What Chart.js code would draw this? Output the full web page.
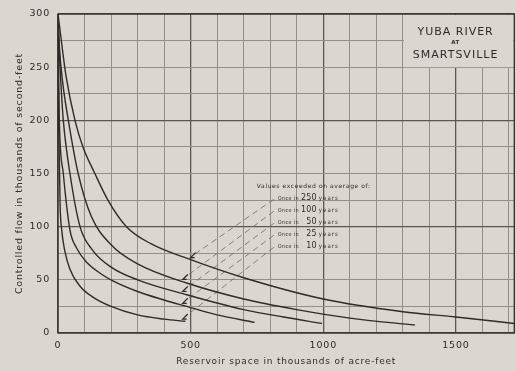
<!DOCTYPE html>
<html>
<head>
<meta charset="utf-8">
<script src="https://cdn.jsdelivr.net/npm/chart.js@4"></script>
<style>
  html, body { margin: 0; padding: 0; background: #dcd6d1; }
  #wrap { position: relative; width: 516px; height: 371px; }
</style>
</head>
<body>
<div id="wrap"><canvas id="chart" width="516" height="371"></canvas></div>
<script>
// Reservoir space (thousands of acre-feet) and controlled flow (thousands of second-feet)
const space250 = [0, 10, 30, 64, 94, 139, 188, 258, 350, 500, 700, 1000, 1300, 1500, 1720];
const flow250  = [300, 280, 242, 200, 175, 150, 125, 100, 84, 69, 52, 32, 20, 15, 9];

const space100 = [0, 5, 18, 39, 76, 125, 200, 300, 485, 700, 900, 1100, 1345];
const flow100  = [300, 270, 235, 200, 150, 110, 83, 65, 47, 32, 22, 14, 7.5];

const space50 = [0, 4, 12, 20, 45, 83, 130, 200, 300, 485, 700, 850, 995];
const flow50  = [300, 270, 230, 200, 150, 100, 78, 62, 50, 36, 22, 15, 9];

const space25 = [0, 2, 5, 20, 45, 70, 110, 160, 207, 300, 400, 485, 600, 741];
const flow25  = [300, 250, 200, 150, 97, 80, 66, 56, 49, 39, 31, 25, 17, 10];

const space10 = [0, 1, 3, 8, 14, 25, 45, 83, 130, 200, 300, 400, 480];
const flow10  = [300, 240, 190, 120, 97, 78, 60, 44, 34, 25, 17, 13, 11];

const periodLabels = ['250', '100', '50', '25', '10'];
const xTickLabels = [0, 500, 1000, 1500];
const yTickLabels = [0, 50, 100, 150, 200, 250, 300];
const stationTitle = ['YUBA RIVER', 'AT', 'SMARTSVILLE'];
const legendHeading = 'Values exceeded on average of:';

const curves = [
  [space250, flow250], [space100, flow100], [space50, flow50], [space25, flow25], [space10, flow10]
];

const INK = '#2f2b28';
const GRID = '#948e89';
const GRID_MAJOR = '#5c5753';
const PAPER = '#dcd6d1';
const FONT = "'DejaVu Sans', sans-serif";
const NARROW = "'DejaVu Sans Condensed', 'DejaVu Sans', sans-serif";

const datasets = curves.map(([xs, ys], i) => ({
  label: 'Once in ' + periodLabels[i] + ' years',
  data: xs.map((x, k) => ({ x: x, y: ys[k] })),
  borderColor: INK,
  borderWidth: 1.4,
  pointRadius: 0,
  fill: false,
  cubicInterpolationMode: 'monotone'
}));

// Wide lettering for the axis text
const spacing = {
  id: 'spacing',
  beforeUpdate(chart) { chart.ctx.letterSpacing = '0.8px'; },
  beforeDraw(chart) {
    const ctx = chart.ctx;
    ctx.letterSpacing = '0.8px';
    ctx.save();
    ctx.fillStyle = PAPER;
    ctx.fillRect(0, 0, chart.width, chart.height);
    ctx.restore();
  }
};

// Frame, station title box, and the return-period key with its leader lines
const decorations = {
  id: 'decorations',
  beforeDatasetsDraw(chart) {
    const { ctx, chartArea: a, scales: { x, y } } = chart;
    ctx.save();
    // station title box in the upper right corner
    const bx0 = x.getPixelForValue(1300), by1 = y.getPixelForValue(250);
    ctx.fillStyle = PAPER;
    ctx.fillRect(bx0 + 1, a.top + 1, a.right - bx0 - 2, by1 - a.top - 1);
    ctx.fillStyle = INK;
    ctx.textAlign = 'center';
    ctx.textBaseline = 'middle';
    const cx = (bx0 + a.right) / 2 - 3;
    ctx.letterSpacing = '1px';
    ctx.font = '11px ' + FONT;
    ctx.fillText(stationTitle[0], cx, a.top + 18);
    ctx.letterSpacing = '0.5px';
    ctx.font = 'bold 5.5px ' + FONT;
    ctx.fillText(stationTitle[1], cx, a.top + 29);
    ctx.letterSpacing = '1px';
    ctx.font = '11px ' + FONT;
    ctx.fillText(stationTitle[2], cx, a.top + 41);

    // plot frame
    ctx.strokeStyle = INK;
    ctx.lineWidth = 1.3;
    ctx.strokeRect(a.left, a.top, a.right - a.left, a.bottom - a.top);

    // key
    const kx = x.getPixelForValue(825) + 1, ky = y.getPixelForValue(138);
    ctx.letterSpacing = '0.6px';
    ctx.font = '6px ' + FONT;
    ctx.textAlign = 'left';
    ctx.fillText(legendHeading, kx - 21, ky);
    const rowGap = 12;
    const leaderX = [500, 470, 470, 470, 470];
    for (let i = 0; i < periodLabels.length; i++) {
      const ry = ky + rowGap * (i + 1);
      ctx.letterSpacing = '0.3px';
      ctx.font = '5.5px ' + NARROW;
      ctx.textAlign = 'left';
      ctx.fillText('Once in', kx, ry + 0.5);
      ctx.letterSpacing = '0.2px';
      ctx.font = '8px ' + FONT;
      ctx.textAlign = 'right';
      ctx.fillText(periodLabels[i], kx + 39, ry);
      ctx.letterSpacing = '1px';
      ctx.font = '6px ' + NARROW;
      ctx.textAlign = 'left';
      ctx.fillText('years', kx + 41, ry + 0.5);
      // leader from the label down to its curve
      const [xs, ys] = curves[i];
      let j = 0;
      while (j < xs.length - 2 && xs[j + 1] < leaderX[i]) j++;
      const t = (leaderX[i] - xs[j]) / (xs[j + 1] - xs[j]);
      const vy = ys[j] + t * (ys[j + 1] - ys[j]);
      const ex = x.getPixelForValue(leaderX[i]), ey = y.getPixelForValue(vy) - 2;
      ctx.strokeStyle = '#6e6864';
      ctx.lineWidth = 0.8;
      ctx.setLineDash([6, 4]);
      ctx.beginPath();
      ctx.moveTo(kx - 4, ry + 1);
      ctx.lineTo(ex + 2, ey - 2);
      ctx.stroke();
      ctx.setLineDash([]);
      ctx.strokeStyle = INK;
      ctx.lineWidth = 1.2;
      ctx.beginPath();
      ctx.moveTo(ex + 5, ey - 5);
      ctx.lineTo(ex, ey);
      ctx.lineTo(ex + 4, ey);
      ctx.stroke();
    }
    ctx.restore();
  }
};

new Chart(document.getElementById('chart'), {
  type: 'line',
  data: { datasets: datasets },
  plugins: [spacing, decorations],
  options: {
    responsive: false,
    animation: false,
    devicePixelRatio: 1,
    layout: { padding: { top: 14, right: 1, left: 0, bottom: 0 } },
    plugins: { legend: { display: false }, tooltip: { enabled: false } },
    scales: {
      x: {
        type: 'linear',
        min: 0,
        max: 1720,
        afterFit(s) { s.height = 38; },
        afterBuildTicks(s) { s.ticks = Array.from({ length: 18 }, (_, k) => ({ value: k * 100 })); },
        border: { display: false },
        grid: {
          drawTicks: false,
          color: c => (c.tick && c.tick.value % 500 === 0) ? GRID_MAJOR : GRID,
          lineWidth: c => (c.tick && c.tick.value % 500 === 0) ? 1.3 : 1
        },
        ticks: {
          padding: 7,
          color: INK,
          font: { size: 9.5, family: FONT },
          maxRotation: 0,
          autoSkip: false,
          callback: v => xTickLabels.includes(v) ? String(v) : ''
        },
        title: {
          display: true,
          text: 'Reservoir space in thousands of acre-feet',
          color: INK,
          font: { size: 9, family: FONT },
          padding: { top: 0, bottom: 4 }
        }
      },
      y: {
        type: 'linear',
        min: 0,
        max: 300,
        afterFit(s) { s.width = 58; },
        afterBuildTicks(s) { s.ticks = Array.from({ length: 13 }, (_, k) => ({ value: k * 25 })); },
        border: { display: false },
        grid: {
          drawTicks: false,
          color: c => (c.tick && c.tick.value % 100 === 0) ? GRID_MAJOR : GRID,
          lineWidth: c => (c.tick && c.tick.value % 100 === 0) ? 1.3 : 1
        },
        ticks: {
          padding: 8,
          color: INK,
          font: { size: 9.5, family: FONT },
          autoSkip: false,
          callback: v => yTickLabels.includes(v) ? String(v) : ''
        },
        title: {
          display: true,
          text: 'Controlled flow in thousands of second-feet',
          color: INK,
          font: { size: 9.5, family: FONT },
          padding: { top: 14, bottom: 0 }
        }
      }
    }
  }
});
</script>
</body>
</html>
